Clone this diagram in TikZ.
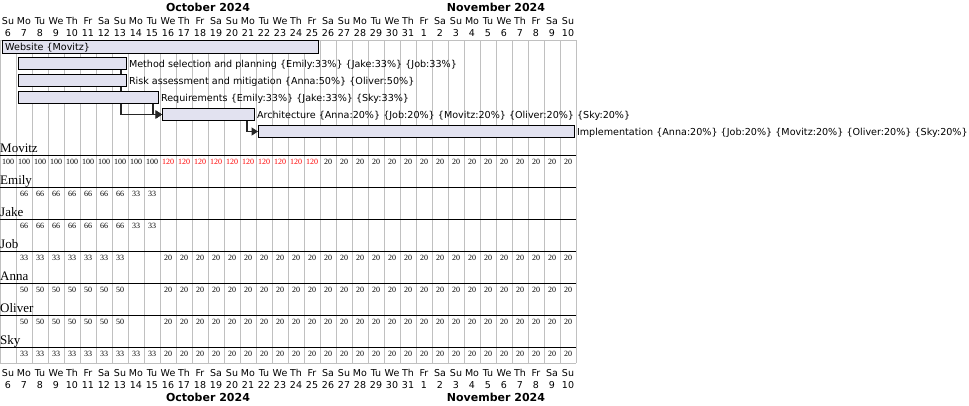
\documentclass[tikz,border=0pt]{standalone}
\usepackage{fontspec}
\setmainfont{DejaVu Sans}
\newfontfamily\resfont{Liberation Serif}
\usepackage{tikz}
\usetikzlibrary{positioning, arrows.meta, backgrounds}

\definecolor{barfill}{HTML}{E2E2F0}
\definecolor{gridgray}{HTML}{C0C0C0}
\newcommand{\wkday}[1]{\ifcase#1 Su\or Mo\or Tu\or We\or Th\or Fr\or Sa\fi}

\begin{document}
\begin{tikzpicture}[x=1pt, y=-1pt, >={Triangle[length=6.5pt, width=8pt]},
    bar/.style={draw=black, fill=barfill, line width=0.8pt, rectangle, inner sep=0pt, minimum height=12.5pt, anchor=west},
    tlabel/.style={anchor=west, inner sep=0pt, yshift=-1pt, font=\fontsize{9.6}{11}\selectfont},
    dayname/.style={anchor=base, inner sep=0pt, font=\fontsize{9.5}{11}\selectfont},
    month/.style={anchor=base, inner sep=0pt, font=\fontsize{11}{13}\selectfont\bfseries},
    person/.style={anchor=base west, inner sep=0pt, font=\resfont\fontsize{13}{15}\selectfont},
    load/.style={inner sep=0pt, font=\resfont\fontsize{8}{9}\selectfont},
    dep/.style={->, line width=1.6pt, draw=black!85}]
    \useasboundingbox (0,0) rectangle (969,405);

    % calendar header and footer
    \node [month] (octtop) at (208, 11.7) {October 2024};
    \node [month] (novtop) at (496, 11.7) {November 2024};
    \node [month] (octbot) at (208, 401.5) {October 2024};
    \node [month] (novbot) at (496, 401.5) {November 2024};
    \foreach \i in {0,...,35} {
        \pgfmathtruncatemacro\w{mod(\i,7)}
        \pgfmathtruncatemacro\dd{\i<26 ? \i+6 : \i-25}
        \node [dayname] (wtop\i) at (16*\i+8, 24.7) {\wkday{\w}};
        \node [dayname] (dtop\i) at (16*\i+8, 36.5) {\dd};
        \node [dayname] (wbot\i) at (16*\i+8, 376.5) {\wkday{\w}};
        \node [dayname] (dbot\i) at (16*\i+8, 388.3) {\dd};
    }

    % tasks
    \node [bar, minimum width=316pt] (web) at (2, 47) {};
    \node [bar, minimum width=108pt] (method) at (18, 63.5) {};
    \node [bar, minimum width=108pt] (risk) at (18, 80.5) {};
    \node [bar, minimum width=140pt] (req) at (18, 97.5) {};
    \node [bar, minimum width=92pt] (arch) at (162, 114.5) {};
    \node [bar, minimum width=316pt] (impl) at (258, 131.5) {};

    \node [tlabel] (webtxt) at ([xshift=3pt]web.west) {Website \{Movitz\}};
    \node [tlabel, right=2pt of method] (methodtxt) {Method selection and planning \{Emily:33\%\} \{Jake:33\%\} \{Job:33\%\}};
    \node [tlabel, right=2pt of risk] (risktxt) {Risk assessment and mitigation \{Anna:50\%\} \{Oliver:50\%\}};
    \node [tlabel, right=2pt of req] (reqtxt) {Requirements \{Emily:33\%\} \{Jake:33\%\} \{Sky:33\%\}};
    \node [tlabel, right=2pt of arch] (archtxt) {Architecture \{Anna:20\%\} \{Job:20\%\} \{Movitz:20\%\} \{Oliver:20\%\} \{Sky:20\%\}};
    \node [tlabel, right=2pt of impl] (impltxt) {Implementation \{Anna:20\%\} \{Job:20\%\} \{Movitz:20\%\} \{Oliver:20\%\} \{Sky:20\%\}};

    % resources
    \foreach \p [count=\r from 0] in {Movitz,Emily,Jake,Job,Anna,Oliver,Sky} {
        \node [person] (res\r) at (0, 155.5+32*\r-3) {\p};
        \draw [line width=0.9pt] (0, 155.5+32*\r) -- (576, 155.5+32*\r);
    }
    \foreach \r/\a/\b/\v/\c in {0/0/9/100/black, 0/10/19/120/red, 0/20/35/20/black,
            1/1/7/66/black, 1/8/9/33/black, 2/1/7/66/black, 2/8/9/33/black,
            3/1/7/33/black, 3/10/35/20/black, 4/1/7/50/black, 4/10/35/20/black,
            5/1/7/50/black, 5/10/35/20/black, 6/1/9/33/black, 6/10/35/20/black} {
        \foreach \i in {\a,...,\b}
            \node [load, text=\c] (ld\r-\i) at (16*\i+8, 155.5+32*\r+6.5) {\v};
    }

    \begin{pgfonlayer}{background}
        \foreach \i in {0,...,36}
            \draw [gridgray, line width=0.9pt] (16*\i, 40) -- (16*\i, 363);
        \draw [gridgray, line width=0.9pt] (0, 40) -- (576, 40);
        \draw [gridgray, line width=0.9pt] (0, 363) -- (576, 363);
        % dependencies
        \draw [dep] ([xshift=-6pt]method.south east) |- (arch.west);
        \draw [dep] ([xshift=-6pt]risk.south east) |- (arch.west);
        \draw [dep] ([xshift=-6pt]req.south east) |- (arch.west);
        \draw [dep] ([xshift=-8pt]arch.south east) |- (impl.west);
    \end{pgfonlayer}
\end{tikzpicture}
\end{document}
